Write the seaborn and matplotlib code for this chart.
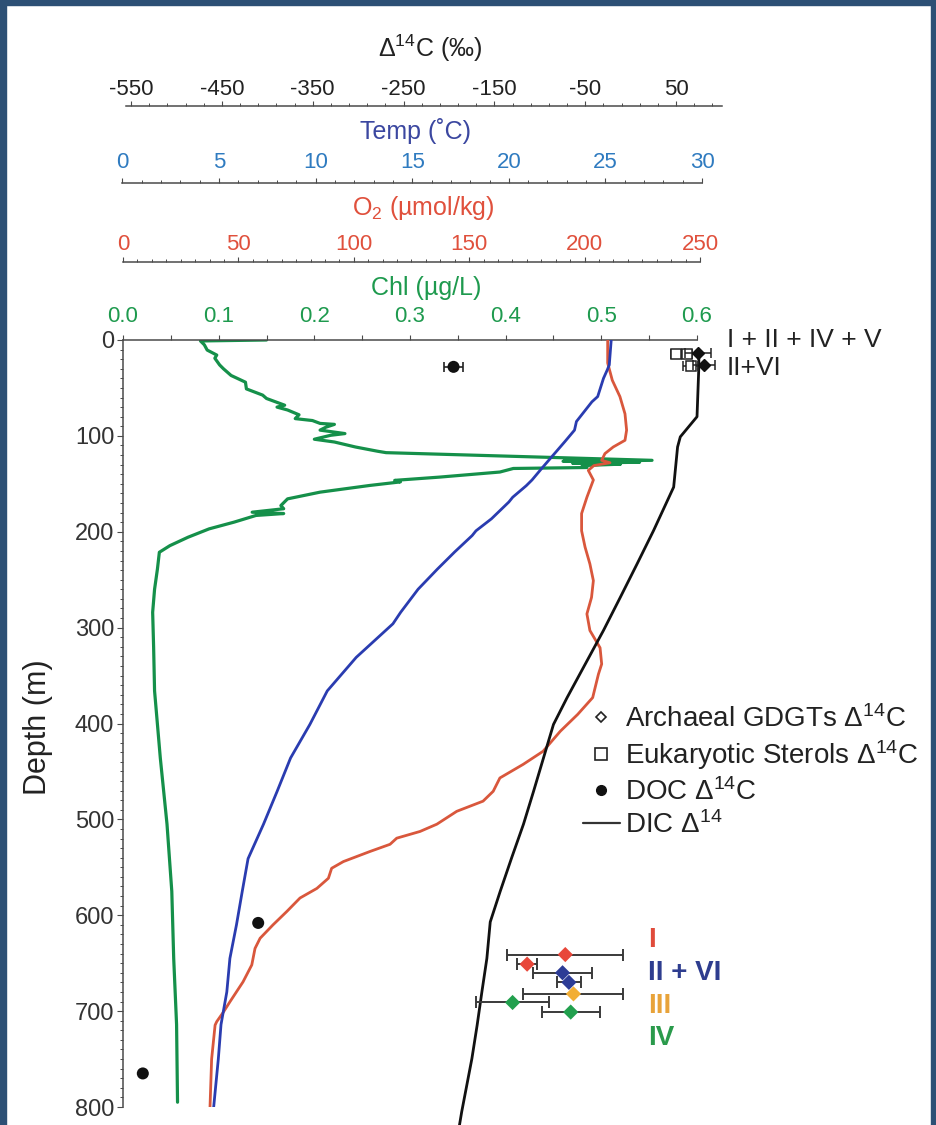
import numpy as np
import pandas as pd
import matplotlib
matplotlib.use("Agg")
import matplotlib.pyplot as plt
from matplotlib.lines import Line2D
from matplotlib.patches import Rectangle
from matplotlib.ticker import FixedLocator, MultipleLocator
import seaborn as sns

# ---------------- data ----------------
# Chlorophyll profile (depth m, µg/L)
chl_depth = [0, 1, 5, 10.5, 15.7, 19, 26, 30, 37, 44,
             51, 57.5, 61, 68, 70, 73, 78, 82, 84, 87,
             88, 91, 94, 97.6, 99.4, 103.5, 106.4, 111.6, 116, 117.5,
             125.5, 126.5, 127.5, 128.5, 129.5, 131, 133, 134, 137.7, 143,
             146.4, 148, 151.7, 158.7, 165.7, 172.7, 176, 179.6, 181, 183,
             190, 197, 205.7, 214.5, 221.4, 238.8, 260, 284, 320, 366,
             436, 505, 575, 645, 714, 795]
chl_value = [0.150, 0.081, 0.085, 0.088, 0.098, 0.096, 0.101, 0.105, 0.113, 0.128,
             0.129, 0.146, 0.150, 0.169, 0.161, 0.172, 0.184, 0.180, 0.198, 0.206,
             0.221, 0.212, 0.206, 0.232, 0.217, 0.200, 0.221, 0.243, 0.266, 0.275,
             0.553, 0.460, 0.540, 0.470, 0.520, 0.480, 0.485, 0.408, 0.394, 0.331,
             0.284, 0.290, 0.258, 0.206, 0.172, 0.165, 0.168, 0.135, 0.168, 0.139,
             0.116, 0.090, 0.068, 0.049, 0.038, 0.036, 0.033, 0.031, 0.032, 0.033,
             0.039, 0.046, 0.051, 0.053, 0.056, 0.057]

# Temperature profile (depth m, °C)
temp_depth = [0, 26, 31, 40, 59, 64.5, 85, 94, 106, 120,
              134, 146, 152, 164, 169, 186.5, 199, 204, 221, 233,
              239, 260, 284, 296, 331, 366, 401, 436, 471, 505,
              541, 575, 610, 645, 680, 714, 750, 800]
temp_value = [25.3, 25.2, 25.1, 24.9, 24.6, 24.3, 23.5, 23.4, 22.9, 22.3,
              21.7, 21.2, 20.9, 20.2, 20.0, 19.1, 18.3, 18.1, 17.2, 16.6,
              16.3, 15.3, 14.4, 14.0, 12.1, 10.6, 9.7, 8.7, 8.0, 7.3,
              6.5, 6.2, 5.9, 5.56, 5.4, 5.1, 4.96, 4.72]

# Oxygen profile (depth m, µmol/kg)
o2_depth = [0, 24, 42, 59, 77, 94, 104.6, 111.6, 118.5, 125.5,
            128, 131, 136, 146, 164, 181, 199, 216, 233.6, 251,
            268.5, 285.7, 303, 321, 338, 348.5, 373, 390.5, 408, 429,
            442.6, 456.8, 470.7, 481, 491.6, 505, 512.6, 519.6, 526, 533.5,
            544, 551, 561.4, 572, 582, 596, 610, 624, 634.6, 651.8,
            669.5, 690, 701, 711, 714.6, 750, 800]
o2_value = [210, 210, 212, 215.3, 217.5, 218.2, 217.5, 212.4, 208.8, 207.4,
            211, 204, 201.6, 203.8, 201, 198.7, 198.7, 200.2, 202.3, 203.8,
            203, 201, 202.3, 206.7, 207.4, 206, 203.5, 197, 189.5, 182,
            173.4, 163.3, 160.4, 156, 144.6, 136, 128.7, 118.6, 115.7, 107,
            95.5, 90.4, 89, 84, 76.7, 71, 65, 59.4, 57.2, 55.8,
            52, 46.4, 43.5, 40.6, 39.9, 38.4, 37.7]

# DIC radiocarbon profile (depth m, per mil)
dic_depth = [18, 28, 80, 101, 111.6, 153.4, 198.7, 233.6, 268.5, 303,
             338, 373, 401, 436, 471, 505, 540, 575, 607, 645,
             680, 714.6, 749.6, 805, 822]
dic_d14c = [75, 75, 73, 54.6, 51.6, 47.3, 25.2, 7, -11.5, -30,
            -50, -70, -85, -96, -107, -118, -131, -143.6, -154.6, -158.3,
            -163.8, -169, -174.8, -186, -189]

# DOC radiocarbon
doc_depth = [28, 608, 765]
doc_d14c = [-195, -410, -537]
doc_err = [10, 0, 0]

# Surface lipid radiocarbon
sterol_depth = [15, 15, 27]
sterol_d14c = [50, 62, 66]
sterol_err = [6, 6, 8]
gdgt_surf_depth = [14, 26]
gdgt_surf_d14c = [74, 81]
gdgt_surf_err = [14, 12]
gdgt_surf_labels = ["I + II + IV + V", "II+VI"]

# Deep GDGT radiocarbon by compound group
gdgt_group = ["I", "I", "II + VI", "II + VI", "III", "IV", "IV"]
gdgt_depth = [641, 651, 660, 670, 682, 691, 701]
gdgt_d14c = [-72, -114, -75, -68, -63, -130, -66]
gdgt_err = [64, 11, 32, 13, 55, 40, 32]
group_names = ["I", "II + VI", "III", "IV"]
group_colors = ["#e8473a", "#2c3c96", "#f2ae35", "#22a04e"]
group_text_colors = ["#e04b3b", "#2e3d8f", "#e8a33a", "#2a9a4b"]

# Axis tick values
depth_ticks = [0, 100, 200, 300, 400, 500, 600, 700, 800]
d14c_ticks = [-550, -450, -350, -250, -150, -50, 50]
temp_ticks = [0, 5, 10, 15, 20, 25, 30]
o2_ticks = [0, 50, 100, 150, 200, 250]
chl_ticks = [0.0, 0.1, 0.2, 0.3, 0.4, 0.5, 0.6]

# ---------------- style ----------------
sns.set_theme(style="white")
plt.rcParams["font.family"] = ["Liberation Sans", "DejaVu Sans"]
plt.rcParams["mathtext.fontset"] = "custom"
plt.rcParams["mathtext.rm"] = "Liberation Sans"
plt.rcParams["mathtext.it"] = "Liberation Sans:italic"
plt.rcParams["mathtext.bf"] = "Liberation Sans:bold"
plt.rcParams["axes.unicode_minus"] = False

C_CHL = "#15904a"
C_TEMP = "#2a3cb0"
C_O2 = "#d9573c"
C_DIC = "#111111"
C_AX = "#4a4a4a"
C_TXT = "#222222"

W, H = 937, 1125
fig = plt.figure(figsize=(W / 100, H / 100), dpi=100)
fig.patch.set_facecolor("white")


def box(x0, x1, y0, y1):
    """Axes rectangle from pixel edges (y measured from the top)."""
    return [x0 / W, 1 - y1 / H, (x1 - x0) / W, (y1 - y0) / H]


def px2pt(v):
    return v * 72 / 100


Y_TOP, Y_BOT = 340, 1107

ax = fig.add_axes(box(123, 697, Y_TOP, Y_BOT))
ax_o2 = fig.add_axes(box(123, 700, Y_TOP, Y_BOT))
ax_t = fig.add_axes(box(122.5, 702, Y_TOP, Y_BOT))
ax_c = fig.add_axes(box(126, 722, Y_TOP, Y_BOT))

# ---------------- main axes: depth + chlorophyll ----------------
ax.set_facecolor("white")
ax.set_ylim(800, 0)
ax.set_xlim(0, 0.6)
for s in ("right", "bottom"):
    ax.spines[s].set_visible(False)
for s in ("left", "top"):
    ax.spines[s].set_color(C_AX)
    ax.spines[s].set_linewidth(1.1)

ax.yaxis.set_major_locator(FixedLocator(depth_ticks))
ax.yaxis.set_minor_locator(MultipleLocator(10))
ax.set_yticklabels([str(t) for t in depth_ticks])
ax.tick_params(axis="y", which="major", direction="out", length=px2pt(6), width=0.8,
               color=C_AX, labelsize=17, labelcolor="#333333", pad=2, left=True)
ax.tick_params(axis="y", which="minor", direction="out", length=px2pt(3.5), width=0.7,
               color=C_AX, left=True)

ax.xaxis.set_ticks_position("top")
ax.xaxis.set_major_locator(FixedLocator(chl_ticks))
ax.xaxis.set_minor_locator(MultipleLocator(0.05))
ax.set_xticklabels([f"{t:.1f}" for t in chl_ticks])
ax.tick_params(axis="x", which="major", direction="out", length=px2pt(5), width=0.8,
               color=C_AX, labelsize=16, labelcolor="#1e9a4e", pad=5.5,
               top=True, bottom=False, labeltop=True, labelbottom=False)
ax.tick_params(axis="x", which="minor", direction="out", length=px2pt(5), width=0.8,
               color=C_AX, top=True, bottom=False)

sns.lineplot(x=chl_value, y=chl_depth, sort=False, estimator=None, color=C_CHL,
             lw=2.3, ax=ax)

# ---------------- overlay axes with offset top scales ----------------
def overlay(a, lo, hi, offset_px, ticks, minor, labels, lab_color, pad):
    a.patch.set_visible(False)
    a.set_ylim(800, 0)
    a.set_xlim(lo, hi)
    a.set_yticks([])
    for s in ("left", "right", "bottom"):
        a.spines[s].set_visible(False)
    a.spines["top"].set_position(("outward", px2pt(offset_px)))
    a.spines["top"].set_color(C_AX)
    a.spines["top"].set_linewidth(1.1)
    a.xaxis.set_ticks_position("top")
    a.xaxis.set_major_locator(FixedLocator(ticks))
    a.xaxis.set_minor_locator(minor)
    a.set_xticklabels(labels)
    a.tick_params(axis="x", which="major", direction="out", length=px2pt(5), width=0.8,
                  color=C_AX, labelsize=16, labelcolor=lab_color, pad=pad,
                  top=True, bottom=False, labeltop=True, labelbottom=False)
    a.tick_params(axis="x", which="minor", direction="out", length=px2pt(3.5), width=0.7,
                  color=C_AX, top=True, bottom=False)


overlay(ax_o2, 0, 250, 78, o2_ticks, MultipleLocator(6.25),
        [str(t) for t in o2_ticks], "#e0503c", 1.5)
overlay(ax_t, 0, 30, 157, temp_ticks, MultipleLocator(1),
        [str(t) for t in temp_ticks], "#2f7bc0", 3.5)
overlay(ax_c, -555.5, 100.5, 234, d14c_ticks, FixedLocator(np.arange(-550, 101, 20)),
        [str(t) for t in d14c_ticks], C_TXT, 0.5)

sns.lineplot(x=o2_value, y=o2_depth, sort=False, estimator=None, color=C_O2,
             lw=2.0, ax=ax_o2)
sns.lineplot(x=temp_value, y=temp_depth, sort=False, estimator=None, color=C_TEMP,
             lw=2.0, ax=ax_t)

# ---------------- radiocarbon data ----------------
sns.lineplot(x=dic_d14c, y=dic_depth, sort=False, estimator=None, color=C_DIC,
             lw=2.0, ax=ax_c)
ax_c.lines[-1].set_clip_on(False)

ax_c.errorbar(doc_d14c[:1], doc_depth[:1], xerr=doc_err[:1], fmt="none",
              ecolor=C_TXT, elinewidth=1.2, capsize=3.5, capthick=1.2)
sns.scatterplot(x=doc_d14c, y=doc_depth, color="#111111", marker="o", s=75,
                edgecolor="none", ax=ax_c, zorder=4, clip_on=False)

ax_c.errorbar(sterol_d14c, sterol_depth, xerr=sterol_err, fmt="s", ms=7.5,
              mfc="white", mec="#222222", mew=1.1, ecolor="#222222",
              elinewidth=1.1, capsize=3.5, capthick=1.1, clip_on=False, zorder=4)
ax_c.errorbar(gdgt_surf_d14c, gdgt_surf_depth, xerr=gdgt_surf_err, fmt="D", ms=6,
              mfc="#111111", mec="#111111", ecolor="#222222",
              elinewidth=1.1, capsize=3.5, capthick=1.1, clip_on=False, zorder=5)

gdgt_df = pd.DataFrame({"group": gdgt_group, "depth": gdgt_depth,
                        "d14c": gdgt_d14c, "err": gdgt_err})
ax_c.errorbar(gdgt_df["d14c"], gdgt_df["depth"], xerr=gdgt_df["err"], fmt="none",
              ecolor="#3a3a3a", elinewidth=1.4, capsize=4, capthick=1.4, zorder=4)
sns.scatterplot(data=gdgt_df, x="d14c", y="depth", hue="group", hue_order=group_names,
                palette=dict(zip(group_names, group_colors)), marker="D", s=60,
                edgecolor="none", legend=False, ax=ax_c, zorder=5)

for a in (ax, ax_o2, ax_t, ax_c):
    a.set_xlabel("")
    a.set_ylabel("")

# ---------------- titles and labels ----------------
fig.text(430 / W, 1 - 48 / H, "Δ$^{14}$C (‰)", ha="center", va="center",
         fontsize=18, color=C_TXT)
fig.text(416 / W, 1 - 131 / H, "Temp (˚C)", ha="center", va="center",
         fontsize=18, color="#3b47a0")
fig.text(423 / W, 1 - 208 / H, "O$_2$ (µmol/kg)", ha="center", va="center",
         fontsize=18, color="#e0503c")
fig.text(426 / W, 1 - 288 / H, "Chl (µg/L)", ha="center", va="center",
         fontsize=18, color="#1e9a4e")
fig.text(38 / W, 1 - 727 / H, "Depth (m)", ha="center", va="center",
         rotation=90, fontsize=22, color=C_TXT)

fig.text(727 / W, 1 - 340 / H, gdgt_surf_labels[0], ha="left", va="center",
         fontsize=19, color=C_TXT)
fig.text(727 / W, 1 - 368 / H, gdgt_surf_labels[1], ha="left", va="center",
         fontsize=19, color=C_TXT)

for name, col, ypx in zip(group_names, group_text_colors, [940, 973, 1006, 1038]):
    fig.text(648 / W, 1 - ypx / H, name, ha="left", va="center", fontsize=20,
             fontweight="bold", color=col)

# ---------------- legend ----------------
handles = [
    Line2D([], [], ls="none", marker="D", ms=5, mfc="white", mec="#222222", mew=1.2),
    Line2D([], [], ls="none", marker="s", ms=8, mfc="white", mec="#222222", mew=1.2),
    Line2D([], [], ls="none", marker="o", ms=7, mfc="#111111", mec="#111111"),
    Line2D([], [], color="#333333", lw=1.6),
]
labels = ["Archaeal GDGTs Δ$^{14}$C", "Eukaryotic Sterols Δ$^{14}$C",
          "DOC Δ$^{14}$C", "DIC Δ$^{14}$"]
leg = fig.legend(handles, labels, loc="upper left",
                 bbox_to_anchor=(583 / W, 1 - 705 / H), frameon=False,
                 fontsize=20, handlelength=1.33, handletextpad=0.18,
                 labelspacing=0.2, borderpad=0, borderaxespad=0)
for t in leg.get_texts():
    t.set_color(C_TXT)

# ---------------- page frame ----------------
frame_col = "#2d5075"
fig.add_artist(Rectangle((0, 0), 6 / W, 1, transform=fig.transFigure,
                         color=frame_col, zorder=10))
fig.add_artist(Rectangle((0, 1 - 5 / H), 1, 5 / H, transform=fig.transFigure,
                         color=frame_col, zorder=10))
fig.add_artist(Rectangle((1 - 6 / W, 0), 6 / W, 1, transform=fig.transFigure,
                         color=frame_col, zorder=10))

fig.savefig("out.png", dpi=100, facecolor="white")
